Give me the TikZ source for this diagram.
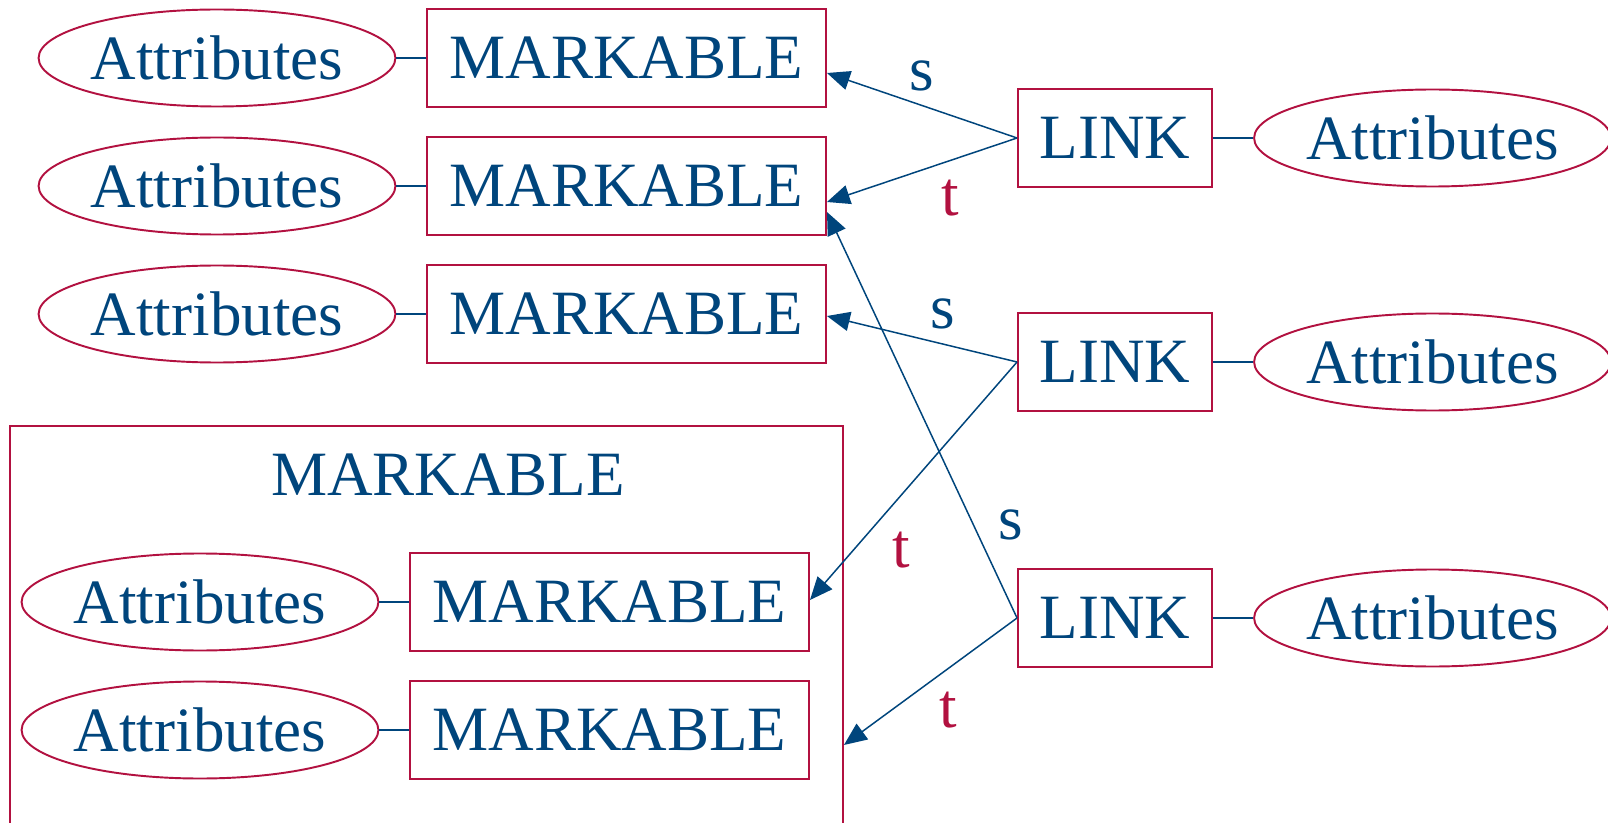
\documentclass[tikz,border=0pt]{standalone}
\usepackage{fontspec}
\setmainfont{Liberation Serif}
\usetikzlibrary{positioning, shapes.geometric, arrows.meta}
\definecolor{markblue}{RGB}{0,69,124}
\definecolor{markred}{RGB}{178,17,64}

\begin{document}
\begin{tikzpicture}[
    on grid,
    node distance=2.56cm and 8.19cm,
    every node/.style={text=markblue, font=\fontsize{35.9}{40}\selectfont},
    markable/.style={draw=markred, line width=1.1pt, minimum width=7.98cm, minimum height=1.96cm},
    attr/.style={ellipse, draw=markred, line width=1.1pt, inner sep=0pt, minimum width=7.04cm, minimum height=1.94cm},
    link/.style={draw=markred, line width=1.1pt, minimum width=3.88cm, minimum height=1.96cm},
    conn/.style={draw=markblue, line width=0.85pt},
    every edge/.append style={draw=markblue, line width=0.85pt, -{Triangle[length=13pt, width=11pt]}}
]
   \useasboundingbox (0,0) rectangle (32.16,-16.46);

   % Plain markables with their attributes
   \node[markable] (M1) at (12.53,-1.16) {MARKABLE};
   \node[markable] (M2) [below=of M1] {MARKABLE};
   \node[markable] (M3) [below=of M2] {MARKABLE};
   \node[attr] (A1) [left=of M1] {Attributes};
   \node[attr] (A2) [left=of M2] {Attributes};
   \node[attr] (A3) [left=of M3] {Attributes};

   % Markable that holds two markables
   \node[draw=markred, line width=1.1pt, anchor=north west, minimum width=16.66cm, minimum height=8.4cm] (outer) at (0.18,-8.5) {};
   \node (outertitle) at (8.96,-9.5) {MARKABLE};
   \node[markable] (M4) at (12.19,-12.04) {MARKABLE};
   \node[markable] (M5) [below=of M4] {MARKABLE};
   \node[attr] (A4) [left=of M4] {Attributes};
   \node[attr] (A5) [left=of M5] {Attributes};

   % Links with their attributes
   \node[link] (L1) at (22.30,-2.76) {LINK};
   \node[link] (L2) at (22.30,-7.24) {LINK};
   \node[link] (L3) at (22.30,-12.36) {LINK};
   \node[attr] (B1) [right=6.35cm of L1] {Attributes};
   \node[attr] (B2) [right=6.35cm of L2] {Attributes};
   \node[attr] (B3) [right=6.35cm of L3] {Attributes};

   \foreach \n in {1,...,5}
      \draw[conn] (A\n) -- (M\n);
   \foreach \n in {1,2,3}
      \draw[conn] (L\n) -- (B\n);

   % source and target of each link
   \path
   (L1.west) edge node[pos=0.5, above=0.16cm] {s} ([yshift=-0.3cm]M1.east)
             edge node[pos=0.35, below=0.26cm, text=markred] {t} ([yshift=-0.32cm]M2.east)

   (L2.west) edge node[pos=0.39, above=0.16cm] {s} ([yshift=-0.04cm]M3.east)
             edge node[pos=0.79, right=0.64cm, text=markred] {t} ([yshift=0.04cm]M4.east)

   (L3.west) edge node[pos=0.23, right=0.37cm] {s} ([yshift=-0.52cm]M2.east)
             edge node[pos=0.4, below=0.33cm, text=markred] {t} ([yshift=-6.4cm]outer.north east);
\end{tikzpicture}
\end{document}
